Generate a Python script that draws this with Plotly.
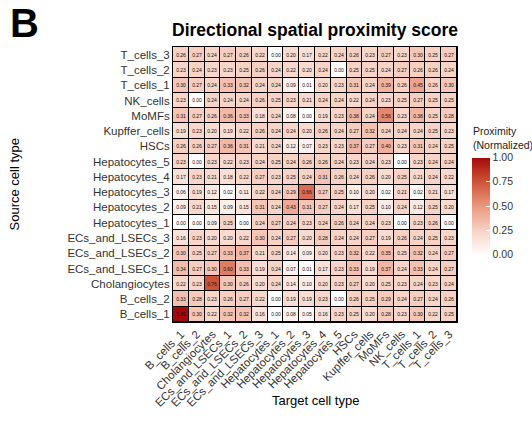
import plotly.graph_objects as go

cell_types = ["B_cells_1", "B_cells_2", "Cholangiocytes", "ECs_and_LSECs_1", "ECs_and_LSECs_2",
              "ECs_and_LSECs_3", "Hepatocytes_1", "Hepatocytes_2", "Hepatocytes_3", "Hepatocytes_4",
              "Hepatocytes_5", "HSCs", "Kupffer_cells", "MoMFs", "NK_cells", "T_cells_1",
              "T_cells_2", "T_cells_3"]

# rows: source cell type (same order as cell_types), columns: target cell type
row_B_cells_1 = [1.00, 0.30, 0.22, 0.32, 0.32, 0.16, 0.00, 0.08, 0.05, 0.16, 0.23, 0.25, 0.20, 0.28, 0.23, 0.30, 0.22, 0.25]
row_B_cells_2 = [0.33, 0.28, 0.23, 0.26, 0.27, 0.22, 0.00, 0.19, 0.19, 0.23, 0.00, 0.26, 0.25, 0.29, 0.24, 0.27, 0.24, 0.26]
row_Cholangiocytes = [0.22, 0.23, 0.76, 0.30, 0.26, 0.20, 0.24, 0.14, 0.10, 0.20, 0.23, 0.27, 0.20, 0.25, 0.23, 0.24, 0.23, 0.24]
row_ECs_1 = [0.34, 0.27, 0.30, 0.60, 0.33, 0.19, 0.24, 0.07, 0.01, 0.17, 0.23, 0.33, 0.19, 0.37, 0.24, 0.33, 0.24, 0.27]
row_ECs_2 = [0.30, 0.25, 0.27, 0.33, 0.37, 0.21, 0.25, 0.14, 0.09, 0.20, 0.23, 0.32, 0.22, 0.35, 0.25, 0.32, 0.24, 0.27]
row_ECs_3 = [0.16, 0.23, 0.20, 0.20, 0.22, 0.30, 0.24, 0.27, 0.20, 0.28, 0.24, 0.24, 0.27, 0.19, 0.26, 0.24, 0.25, 0.23]
row_Hep_1 = [0.00, 0.00, 0.09, 0.25, 0.00, 0.24, 0.27, 0.24, 0.23, 0.24, 0.26, 0.24, 0.24, 0.23, 0.00, 0.23, 0.26, 0.00]
row_Hep_2 = [0.09, 0.21, 0.15, 0.09, 0.15, 0.31, 0.24, 0.43, 0.31, 0.27, 0.24, 0.17, 0.25, 0.10, 0.24, 0.12, 0.25, 0.20]
row_Hep_3 = [0.06, 0.19, 0.12, 0.02, 0.11, 0.22, 0.24, 0.29, 0.66, 0.27, 0.25, 0.10, 0.20, 0.02, 0.21, 0.02, 0.21, 0.17]
row_Hep_4 = [0.17, 0.23, 0.21, 0.18, 0.22, 0.27, 0.23, 0.25, 0.24, 0.31, 0.26, 0.24, 0.26, 0.20, 0.25, 0.21, 0.24, 0.22]
row_Hep_5 = [0.23, 0.00, 0.23, 0.22, 0.23, 0.24, 0.25, 0.24, 0.26, 0.26, 0.24, 0.23, 0.24, 0.23, 0.00, 0.23, 0.24, 0.24]
row_HSCs = [0.26, 0.26, 0.27, 0.36, 0.31, 0.21, 0.24, 0.12, 0.07, 0.23, 0.23, 0.37, 0.27, 0.40, 0.23, 0.31, 0.24, 0.25]
row_Kupffer = [0.19, 0.23, 0.20, 0.19, 0.22, 0.26, 0.24, 0.24, 0.20, 0.26, 0.24, 0.27, 0.32, 0.24, 0.24, 0.24, 0.25, 0.23]
row_MoMFs = [0.31, 0.27, 0.26, 0.36, 0.33, 0.18, 0.24, 0.08, 0.00, 0.19, 0.23, 0.38, 0.24, 0.56, 0.23, 0.38, 0.25, 0.28]
row_NK = [0.23, 0.00, 0.24, 0.24, 0.24, 0.26, 0.25, 0.23, 0.21, 0.24, 0.24, 0.22, 0.24, 0.23, 0.25, 0.27, 0.25, 0.25]
row_T_cells_1 = [0.30, 0.27, 0.24, 0.33, 0.32, 0.24, 0.24, 0.09, 0.01, 0.20, 0.23, 0.31, 0.24, 0.39, 0.26, 0.45, 0.26, 0.30]
row_T_cells_2 = [0.23, 0.24, 0.23, 0.23, 0.25, 0.26, 0.24, 0.22, 0.20, 0.24, 0.00, 0.25, 0.25, 0.24, 0.27, 0.26, 0.26, 0.24]
row_T_cells_3 = [0.26, 0.27, 0.24, 0.27, 0.26, 0.22, 0.00, 0.20, 0.17, 0.22, 0.24, 0.26, 0.23, 0.27, 0.23, 0.30, 0.25, 0.27]

z = [row_B_cells_1, row_B_cells_2, row_Cholangiocytes, row_ECs_1, row_ECs_2, row_ECs_3,
     row_Hep_1, row_Hep_2, row_Hep_3, row_Hep_4, row_Hep_5, row_HSCs, row_Kupffer,
     row_MoMFs, row_NK, row_T_cells_1, row_T_cells_2, row_T_cells_3]

colorbar_ticks = [0.0, 0.25, 0.5, 0.75, 1.0]

FONT = "Liberation Sans, Arial, sans-serif"
W, H = 532, 421
L, R, T, B = 173, 75, 47, 93
pw, ph = W - L - R, H - T - B

def px_x(x):
    return (x - L) / pw

def px_y(y):
    return 1 - (y - T) / ph

colorscale = [[0.0, "#FFFFFF"], [0.25, "#F8D2C4"], [0.5, "#EA9880"],
              [0.75, "#CF5539"], [1.0, "#A30A0A"]]

fig = go.Figure(go.Heatmap(
    z=z, x=cell_types, y=cell_types,
    zmin=0, zmax=1, colorscale=colorscale,
    xgap=1, ygap=1,
    texttemplate="%{z:.2f}", textfont=dict(size=5, color="#111111", family=FONT),
    colorbar=dict(
        tickvals=colorbar_ticks, tickformat=".2f",
        tickfont=dict(size=10.5, family=FONT, color="#333333"),
        ticks="inside", tickcolor="white", ticklen=4,
        thickness=18, thicknessmode="pixels",
        len=97, lenmode="pixels",
        x=px_x(472), xanchor="left", xpad=0,
        y=px_y(209.5), yanchor="middle", ypad=0,
        outlinewidth=0,
    ),
))

fig.update_xaxes(tickangle=-45, tickfont=dict(size=11.5, family=FONT, color="#333333"),
                 showline=True, mirror=True, linecolor="black", linewidth=1,
                 showgrid=False, ticks="", ticklen=0)
fig.update_yaxes(tickfont=dict(size=11.5, family=FONT, color="#333333"),
                 showline=True, mirror=True, linecolor="black", linewidth=1,
                 showgrid=False, ticks="", ticklen=0)

fig.update_layout(
    width=W, height=H,
    margin=dict(l=L, r=R, t=T, b=B, pad=0),
    paper_bgcolor="white", plot_bgcolor="black",
    font=dict(family=FONT),
    annotations=[
        dict(text="<b>B</b>", x=px_x(8), y=px_y(22), xref="paper", yref="paper",
             xanchor="left", yanchor="middle", showarrow=False,
             font=dict(size=40, family=FONT, color="black")),
        dict(text="<b>Directional spatial proximity score</b>", x=0.5, y=px_y(30),
             xref="paper", yref="paper", xanchor="center", yanchor="middle",
             showarrow=False, font=dict(size=17.5, family=FONT, color="black")),
        dict(text="Source cell type", x=px_x(14), y=0.5, xref="paper", yref="paper",
             textangle=-90, xanchor="center", yanchor="middle", showarrow=False,
             font=dict(size=13, family=FONT, color="black")),
        dict(text="Target cell type", x=0.5, y=px_y(408), xref="paper", yref="paper",
             xanchor="center", yanchor="middle", showarrow=False,
             font=dict(size=13, family=FONT, color="black")),
        dict(text="Proximity", x=px_x(471), y=px_y(133),
             xref="paper", yref="paper", xanchor="left", yanchor="middle",
             align="left", showarrow=False,
             font=dict(size=10.5, family=FONT, color="#222222")),
        dict(text="(Normalized)", x=px_x(471), y=px_y(147),
             xref="paper", yref="paper", xanchor="left", yanchor="middle",
             align="left", showarrow=False,
             font=dict(size=10.5, family=FONT, color="#222222")),
    ],
)

fig.write_html("out.html")
